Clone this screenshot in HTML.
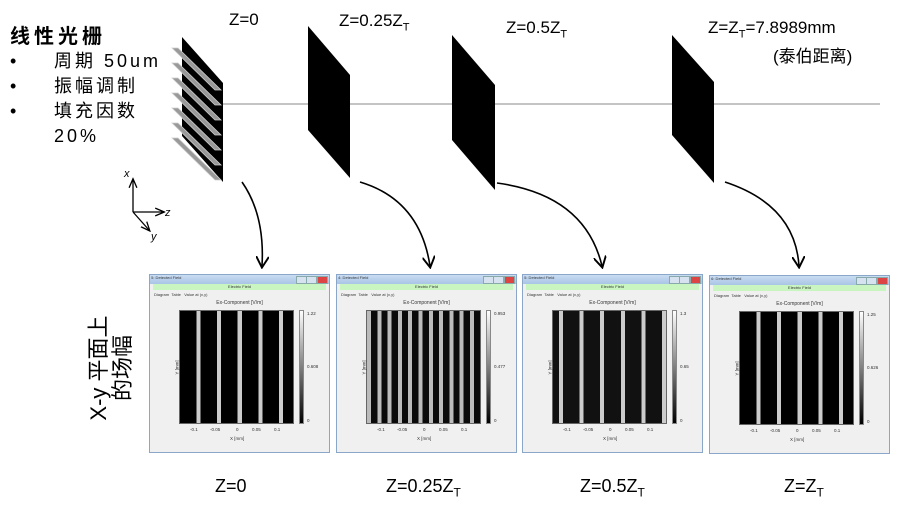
<!DOCTYPE html>
<html><head><meta charset="utf-8"><style>
body{margin:0;background:#fff;}
#c{position:relative;width:900px;height:520px;overflow:hidden;font-family:"Liberation Sans","Noto Sans CJK SC",sans-serif;color:#000;}
.t{position:absolute;white-space:nowrap;}
.win{position:absolute;width:181px;height:179px;background:#f0f0f0;border:1px solid #8aa6c8;box-sizing:border-box;font-size:4px;color:#333;}
.tb{position:absolute;left:0;top:0;right:0;height:9px;background:linear-gradient(#c9dcf2,#a9c4e6);}
.tb .btn{position:absolute;top:1px;height:6px;width:9px;background:#d6e2f0;border:1px solid #8aa;}
.gb{position:absolute;left:3px;right:3px;top:9px;height:6px;background:#c8f5c0;text-align:center;font-size:4px;line-height:6px;}
.tabs{position:absolute;left:4px;top:17px;font-size:4px;}
.ttl{position:absolute;left:0;right:0;top:25px;text-align:center;font-size:5px;}
.plot{position:absolute;left:29px;top:35px;width:115px;height:114px;border:1px solid #666;box-sizing:border-box;}
.cb{position:absolute;left:149px;top:35px;width:5px;height:114px;background:linear-gradient(#fff,#000);border:1px solid #888;box-sizing:border-box;}
.cl{position:absolute;left:157px;font-size:4.5px;}
.xl{position:absolute;top:152px;font-size:4.5px;}
.yl{position:absolute;left:20px;font-size:4.5px;transform:rotate(-90deg);}
</style></head><body><div id="c">
<svg width="900" height="520" style="position:absolute;left:0;top:0">
<defs><marker id="a" markerWidth="8" markerHeight="8" refX="6" refY="4" orient="auto"><path d="M0,0 L7,4 L0,8" fill="none" stroke="#000" stroke-width="1.2"/></marker>
<marker id="s" markerWidth="8" markerHeight="8" refX="6" refY="4" orient="auto"><path d="M0,1 L7,4 L0,7" fill="none" stroke="#000" stroke-width="1"/></marker></defs>
<line x1="222" y1="104" x2="880" y2="104" stroke="#888" stroke-width="1"/>
<polygon points="182,37 223,83 223,182 182,136" fill="#000"/>
<g fill="#999" stroke="#ccc" stroke-width="0.8">
<polygon points="172,48 215,90 221,90 178,48"/>
<polygon points="172,63 215,105 221,105 178,63"/>
<polygon points="172,78 215,120 221,120 178,78"/>
<polygon points="172,93 215,135 221,135 178,93"/>
<polygon points="172,108 215,150 221,150 178,108"/>
<polygon points="172,123 215,165 221,165 178,123"/>
<polygon points="172,138 215,180 221,180 178,138"/>
</g>
<g fill="#aaa"><rect x="172" y="48" width="44" height="0"/></g>
<polygon points="308,26 350,75 350,178 308,130" fill="#000"/>
<polygon points="452,35 495,85 495,190 452,140" fill="#000"/>
<polygon points="672,35 714,82 714,183 672,135" fill="#000"/>
<g fill="none" stroke="#000" stroke-width="1.6">
<path d="M242,182 Q265,215 262,266" marker-end="url(#a)"/>
<path d="M360,182 Q420,200 430,266" marker-end="url(#a)"/>
<path d="M497,183 Q585,195 602,266" marker-end="url(#a)"/>
<path d="M725,182 Q795,205 799,266" marker-end="url(#a)"/>
</g>
<g stroke="#000" stroke-width="1.3" fill="none">
<line x1="133" y1="212" x2="133" y2="180" marker-end="url(#s)"/>
<line x1="133" y1="212" x2="163" y2="212" marker-end="url(#s)"/>
<line x1="133" y1="212" x2="149" y2="230" marker-end="url(#s)"/>
</g>
<text x="124" y="177" font-size="11" font-style="italic" font-family="Liberation Sans">x</text>
<text x="165" y="216" font-size="11" font-style="italic" font-family="Liberation Sans">z</text>
<text x="151" y="240" font-size="11" font-style="italic" font-family="Liberation Sans">y</text>
</svg>

<div class="t" style="left:10px;top:20px;font-size:20px;font-weight:bold;letter-spacing:4px;">线性光栅</div>
<div class="t" style="left:10px;top:49px;font-size:18px;line-height:25px;letter-spacing:3px;">•<br>•<br>•</div>
<div class="t" style="left:54px;top:49px;font-size:18px;line-height:25px;letter-spacing:3px;">周期 50um<br>振幅调制<br>填充因数<br>20%</div>

<div class="t" style="left:229px;top:10px;font-size:17px;">Z=0</div>
<div class="t" style="left:339px;top:11px;font-size:17px;">Z=0.25Z<sub style="font-size:11px">T</sub></div>
<div class="t" style="left:506px;top:18px;font-size:17px;">Z=0.5Z<sub style="font-size:11px">T</sub></div>
<div class="t" style="left:708px;top:18px;font-size:17px;">Z=Z<sub style="font-size:11px">T</sub>=7.8989mm</div>
<div class="t" style="left:773px;top:42px;font-size:17px;">(泰伯距离)</div>

<div class="t" style="left:111px;top:368px;font-size:22px;line-height:24px;text-align:center;transform:translate(-50%,-50%) rotate(-90deg);">X-y 平面上<br>的场幅</div>

<div class="win" style="left:149px;top:274px;"><div class="tb">&nbsp;5: Detected Field<div class="btn" style="right:22px"></div><div class="btn" style="right:12px"></div><div class="btn" style="right:1px;background:#d44"></div></div><div class="gb">Electric Field</div><div class="tabs">Diagram&nbsp;&nbsp;Table&nbsp;&nbsp;&nbsp;Value at (x,y)</div><div class="ttl">Ex-Component [V/m]</div>
<div class="plot" style="background:repeating-linear-gradient(90deg,#000 0 16.5px,#ccc 16.5px 20.6px);"></div><div class="cb"></div><div class="cl" style="top:36px">1.22</div><div class="cl" style="top:89px">0.608</div><div class="cl" style="top:143px">0</div>
<div class="xl" style="left:40px">-0.1</div><div class="xl" style="left:60px">-0.05</div><div class="xl" style="left:86px">0</div><div class="xl" style="left:102px">0.05</div><div class="xl" style="left:124px">0.1</div><div class="xl" style="left:80px;top:161px">X [mm]</div><div class="yl" style="top:90px">Y [mm]</div></div>

<div class="win" style="left:336px;top:274px;"><div class="tb">&nbsp;4: Detected Field<div class="btn" style="right:22px"></div><div class="btn" style="right:12px"></div><div class="btn" style="right:1px;background:#d44"></div></div><div class="gb">Electric Field</div><div class="tabs">Diagram&nbsp;&nbsp;Table&nbsp;&nbsp;&nbsp;Value at (x,y)</div><div class="ttl">Ex-Component [V/m]</div>
<div class="plot" style="background:repeating-linear-gradient(90deg,#bbb 0 4px,#0a0a0a 4px 10.3px);"></div><div class="cb"></div><div class="cl" style="top:36px">0.953</div><div class="cl" style="top:89px">0.477</div><div class="cl" style="top:143px">0</div>
<div class="xl" style="left:40px">-0.1</div><div class="xl" style="left:60px">-0.05</div><div class="xl" style="left:86px">0</div><div class="xl" style="left:102px">0.05</div><div class="xl" style="left:124px">0.1</div><div class="xl" style="left:80px;top:161px">X [mm]</div><div class="yl" style="top:90px">Y [mm]</div></div>

<div class="win" style="left:522px;top:274px;"><div class="tb">&nbsp;5: Detected Field<div class="btn" style="right:22px"></div><div class="btn" style="right:12px"></div><div class="btn" style="right:1px;background:#d44"></div></div><div class="gb">Electric Field</div><div class="tabs">Diagram&nbsp;&nbsp;Table&nbsp;&nbsp;&nbsp;Value at (x,y)</div><div class="ttl">Ex-Component [V/m]</div>
<div class="plot" style="background:repeating-linear-gradient(90deg,#111 0 6px,#ccc 6px 10px,#111 10px 20.6px);"></div><div class="cb"></div><div class="cl" style="top:36px">1.3</div><div class="cl" style="top:89px">0.65</div><div class="cl" style="top:143px">0</div>
<div class="xl" style="left:40px">-0.1</div><div class="xl" style="left:60px">-0.05</div><div class="xl" style="left:86px">0</div><div class="xl" style="left:102px">0.05</div><div class="xl" style="left:124px">0.1</div><div class="xl" style="left:80px;top:161px">X [mm]</div><div class="yl" style="top:90px">Y [mm]</div></div>

<div class="win" style="left:709px;top:275px;"><div class="tb">&nbsp;6: Detected Field<div class="btn" style="right:22px"></div><div class="btn" style="right:12px"></div><div class="btn" style="right:1px;background:#d44"></div></div><div class="gb">Electric Field</div><div class="tabs">Diagram&nbsp;&nbsp;Table&nbsp;&nbsp;&nbsp;Value at (x,y)</div><div class="ttl">Ex-Component [V/m]</div>
<div class="plot" style="background:repeating-linear-gradient(90deg,#000 0 16.5px,#ccc 16.5px 20.6px);"></div><div class="cb"></div><div class="cl" style="top:36px">1.25</div><div class="cl" style="top:89px">0.626</div><div class="cl" style="top:143px">0</div>
<div class="xl" style="left:40px">-0.1</div><div class="xl" style="left:60px">-0.05</div><div class="xl" style="left:86px">0</div><div class="xl" style="left:102px">0.05</div><div class="xl" style="left:124px">0.1</div><div class="xl" style="left:80px;top:161px">X [mm]</div><div class="yl" style="top:90px">Y [mm]</div></div>

<div class="t" style="left:215px;top:476px;font-size:18px;">Z=0</div>
<div class="t" style="left:386px;top:476px;font-size:18px;">Z=0.25Z<sub style="font-size:12px">T</sub></div>
<div class="t" style="left:580px;top:476px;font-size:18px;">Z=0.5Z<sub style="font-size:12px">T</sub></div>
<div class="t" style="left:784px;top:476px;font-size:18px;">Z=Z<sub style="font-size:12px">T</sub></div>
</div></body></html>
